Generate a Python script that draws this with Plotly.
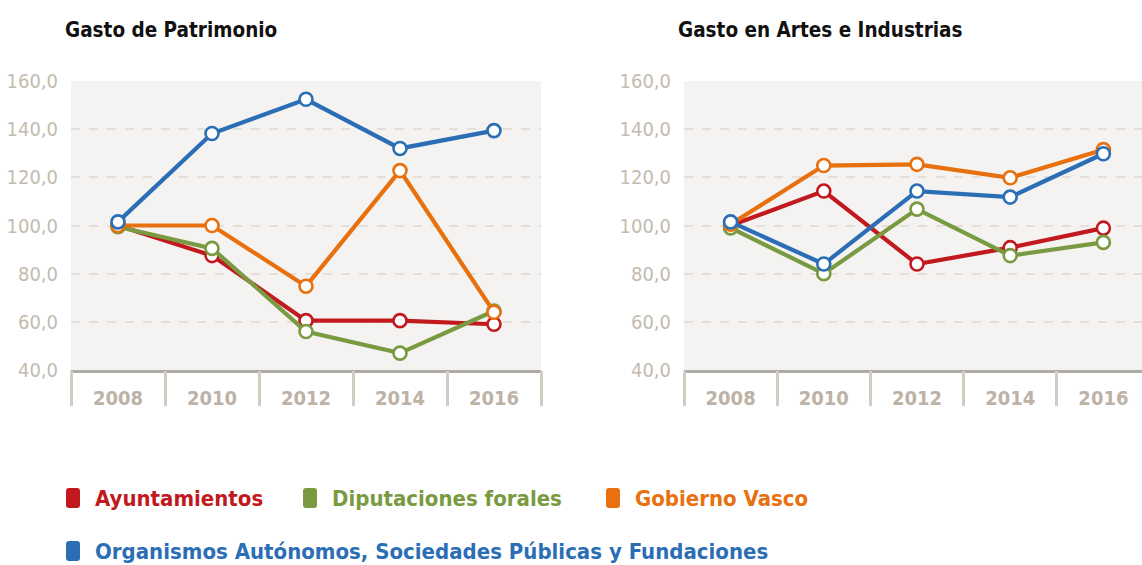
import plotly.graph_objects as go

W, H = 1142, 565

years = ["2008", "2010", "2012", "2014", "2016"]
series_names = ["Ayuntamientos", "Diputaciones forales", "Gobierno Vasco",
                "Organismos Autónomos, Sociedades Públicas y Fundaciones"]
series_colors = ["#c1191d", "#7a9a41", "#e8700e", "#2b6eb6"]

titles = ["Gasto de Patrimonio", "Gasto en Artes e Industrias"]

# Gasto de Patrimonio
patrimonio_ayuntamientos = [100.0, 87.5, 60.5, 60.5, 59.0]
patrimonio_diputaciones = [99.5, 90.5, 56.0, 47.0, 64.5]
patrimonio_gobierno = [100.0, 100.0, 74.8, 122.8, 64.0]
patrimonio_organismos = [101.5, 138.2, 152.4, 132.0, 139.4]

# Gasto en Artes e Industrias
artes_ayuntamientos = [100.0, 114.3, 84.0, 90.8, 98.9]
artes_diputaciones = [99.0, 80.0, 106.8, 87.5, 93.0]
artes_gobierno = [100.5, 124.9, 125.4, 119.8, 131.5]
artes_organismos = [101.5, 84.0, 114.3, 111.8, 129.8]

y_ticks = [40, 60, 80, 100, 120, 140, 160]

panels = [
    [patrimonio_ayuntamientos, patrimonio_diputaciones, patrimonio_gobierno, patrimonio_organismos],
    [artes_ayuntamientos, artes_diputaciones, artes_gobierno, artes_organismos],
]

FONT = "DejaVu Sans Condensed, Liberation Sans Narrow, Arial Narrow, sans-serif"

def px(x):
    return x / W

def py(y):
    return 1 - y / H

fig = go.Figure()

axis_ids = [("x", "y"), ("x2", "y2")]
for p, vals in enumerate(panels):
    xa, ya = axis_ids[p]
    for i, v in enumerate(vals):
        fig.add_trace(go.Scatter(
            x=years, y=v, xaxis=xa, yaxis=ya, mode="lines+markers",
            name=series_names[i], showlegend=False,
            line=dict(color=series_colors[i], width=4.2),
            marker=dict(size=13, color="white", line=dict(color=series_colors[i], width=2.6)),
            cliponaxis=False,
        ))

y_top, y_bot = 81, 370
domains_x = [(71, 541), (684, W)]
x_ranges = [[-0.5, 4.5], [-0.5, 4.5 - (1150 - W) / 93.3]]

for p in range(2):
    sfx = "" if p == 0 else "2"
    sep = ["3", "4"][p]
    dom = [px(domains_x[p][0]), px(domains_x[p][1])]
    fig.update_layout(**{
        "xaxis" + sfx: dict(
            domain=dom, anchor="y" + sfx, type="category", range=x_ranges[p],
            categoryorder="array", categoryarray=years,
            ticks="", showline=True, linecolor="#afaba7", linewidth=3,
            showgrid=False, zeroline=False, automargin=False,
            tickfont=dict(family=FONT, size=20, color="#bcb2a6", weight="bold"),
            ticklabelstandoff=8,
        ),
        # separator ticks between the year categories
        "xaxis" + sep: dict(
            domain=dom, anchor="y" + sfx, overlaying="x" + sfx, type="category",
            range=x_ranges[p], categoryorder="array", categoryarray=years,
            tickson="boundaries", ticks="outside", ticklen=35, tickwidth=3,
            tickcolor="#d3ccc2", showticklabels=False, showline=False,
            showgrid=False, zeroline=False, automargin=False,
        ),
        "yaxis" + sfx: dict(
            domain=[py(y_bot), py(y_top)], anchor="x" + sfx,
            range=[40, 160], tickvals=y_ticks, tickformat=".1f",
            showgrid=True, gridcolor="#e4dfd8", gridwidth=2, griddash="dash",
            showline=False, zeroline=False, ticks="", automargin=False,
            tickfont=dict(family=FONT, size=20, color="#c4bbb0"),
            ticklabelstandoff=12,
        ),
    })
    # invisible trace so the overlay axis is drawn
    fig.add_trace(go.Scatter(x=years, y=[None] * len(years), xaxis="x" + sep,
                             yaxis="y" + sfx, showlegend=False, hoverinfo="skip",
                             mode="markers"))
    fig.add_annotation(
        text="<b>" + titles[p] + "</b>", xref="paper", yref="paper",
        x=px([63, 676][p]), y=py(30), xanchor="left", yanchor="middle",
        showarrow=False, font=dict(family=FONT, size=20.5, color="#111111"),
    )

# legend drawn as coloured rounded squares + coloured text
legend_pos = [(66, 498), (303, 498), (606, 498), (66, 551)]
for i, name in enumerate(series_names):
    x0, yc = legend_pos[i]
    l, r, t, b, rr = x0, x0 + 14, yc - 10, yc + 10, 3
    path = (f"M {px(l + rr)} {py(t)} L {px(r - rr)} {py(t)} Q {px(r)} {py(t)} {px(r)} {py(t + rr)} "
            f"L {px(r)} {py(b - rr)} Q {px(r)} {py(b)} {px(r - rr)} {py(b)} "
            f"L {px(l + rr)} {py(b)} Q {px(l)} {py(b)} {px(l)} {py(b - rr)} "
            f"L {px(l)} {py(t + rr)} Q {px(l)} {py(t)} {px(l + rr)} {py(t)} Z")
    fig.add_shape(type="path", xref="paper", yref="paper", path=path,
                  fillcolor=series_colors[i], line=dict(width=0))
    fig.add_annotation(
        text="<b>" + name + "</b>", xref="paper", yref="paper", x=px(x0 + 27), y=py(yc),
        xanchor="left", yanchor="middle", showarrow=False,
        font=dict(family=FONT, size=22, color=series_colors[i]),
    )

fig.update_layout(
    width=W, height=H, margin=dict(l=0, r=0, t=0, b=0, pad=0, autoexpand=False),
    paper_bgcolor="white", plot_bgcolor="#f4f3f1",
    separators=",.", showlegend=False,
)

fig.write_html("out.html", config={"displayModeBar": False},
               post_script="document.body.style.margin='0';document.body.style.overflow='hidden';")
